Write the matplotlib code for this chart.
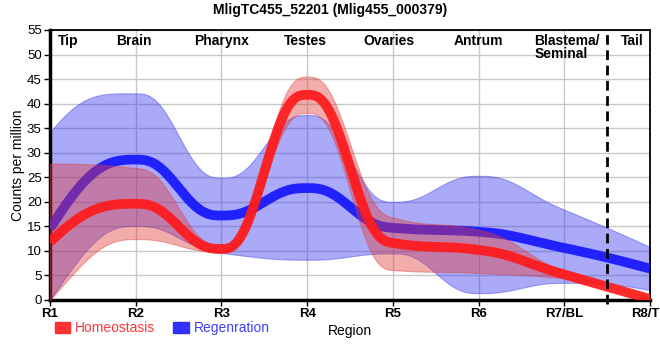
import numpy as np
import matplotlib
matplotlib.use("Agg")
from matplotlib import pyplot as plt
from matplotlib.patches import Patch

plt.rcParams['font.family'] = ['Liberation Sans', 'DejaVu Sans']

regions = ['R1', 'R2', 'R3', 'R4', 'R5', 'R6', 'R7/BL', 'R8/TE']
parts = ['Tip', 'Brain', 'Pharynx', 'Testes', 'Ovaries', 'Antrum', 'Blastema/\nSeminal', 'Tail']
part_pos = [0.09, 0.77, 1.68, 2.73, 3.66, 4.71, 5.65, 6.66]

homeo_mean = [11.8, 19.6, 10.4, 41.8, 11.6, 10.2, 5.2, 0.2]
homeo_hi = [27.8, 26.9, 11.2, 45.5, 16.8, 14.3, 5.9, 0.5]
homeo_lo = [0.0, 12.4, 9.8, 38.1, 6.1, 5.5, 4.4, 0.0]

regen_mean = [14.6, 28.6, 17.2, 22.8, 14.7, 13.9, 10.6, 6.4]
regen_hi = [34.2, 42.1, 24.9, 37.7, 20.0, 25.3, 18.4, 10.8]
regen_lo = [0.0, 15.1, 9.6, 8.2, 9.5, 1.4, 3.5, 2.0]


def smooth(y, n=500):
    # quintic hermite through the region points, pchip-style slopes
    y = np.asarray(y, float)
    d = np.diff(y)
    m = np.zeros_like(y)
    for i in range(1, len(y) - 1):
        if d[i - 1] * d[i] > 0:
            m[i] = 2 / (1 / d[i - 1] + 1 / d[i])
    for i, a, b in [(0, d[0], d[1]), (-1, d[-1], d[-2])]:
        e = (3 * a - b) / 2
        if e * a <= 0:
            e = 0
        elif a * b < 0 and abs(e) > 3 * abs(a):
            e = 3 * a
        m[i] = e
    xs = np.linspace(0, len(y) - 1, n)
    k = np.minimum(xs.astype(int), len(y) - 2)
    t = xs - k
    h0 = 1 - 10 * t**3 + 15 * t**4 - 6 * t**5
    h1 = t - 6 * t**3 + 8 * t**4 - 3 * t**5
    h4 = -4 * t**3 + 7 * t**4 - 3 * t**5
    h5 = 10 * t**3 - 15 * t**4 + 6 * t**5
    ys = h0 * y[k] + h1 * m[k] + h5 * y[k + 1] + h4 * m[k + 1]
    return xs, ys


fig = plt.figure(figsize=(6.6, 3.6), dpi=100)
ax = fig.add_axes([50 / 660, 60 / 360, 600 / 660, 270 / 360])

xs, b_hi = smooth(regen_hi)
_, b_lo = smooth(regen_lo)
_, b_m = smooth(regen_mean)
_, r_hi = smooth(homeo_hi)
_, r_lo = smooth(homeo_lo)
_, r_m = smooth(homeo_mean)

ax.fill_between(xs, b_lo, b_hi, color='#3a3af0', alpha=0.43, lw=0.8, zorder=2)
ax.plot(xs, b_m, color='#1a1aff', lw=7, alpha=0.95, solid_capstyle='butt', zorder=3)
ax.fill_between(xs, r_lo, r_hi, color='#e03a3a', alpha=0.42, lw=0.8, zorder=4)
ax.plot(xs, r_m, color='#ff1a1a', lw=7, alpha=0.92, solid_capstyle='butt', zorder=5)

ax.axvline(6.5, color='black', ls=(0, (3.5, 2)), lw=2, zorder=6, clip_on=False, ymin=-0.015)

ax.set_xlim(0, 7)
ax.set_ylim(0, 55)
ax.set_yticks(np.arange(0, 56, 5))
ax.set_xticks(range(len(regions)))
ax.set_xticklabels(regions, fontweight='bold', fontsize=9.5)
ax.tick_params(axis='y', labelsize=9.5, length=4, width=1, pad=2)
ax.tick_params(axis='x', length=4, width=1, pad=1.5)
ax.grid(True, color='#c8c8c8', lw=1, zorder=0)
ax.set_axisbelow(True)
for s in ['left', 'bottom']:
    ax.spines[s].set_linewidth(2.5)
for s in ['top', 'right']:
    ax.spines[s].set_linewidth(1.3)

for p, t in zip(part_pos, parts):
    ax.text(p, 54.2, t, ha='left', va='top', fontweight='bold', fontsize=10,
            linespacing=0.95, zorder=7)

ax.set_ylabel('Counts per million', fontsize=10, labelpad=1)
ax.set_xlabel('Region', fontsize=10, labelpad=3)
fig.text(0.5, 0.992, 'MligTC455_52201 (Mlig455_000379)', ha='center', va='top',
         fontweight='bold', fontsize=10)

handles = [Patch(color='#ff3030'), Patch(color='#3030ff')]
leg = ax.legend(handles, ['Homeostasis', 'Regenration'], loc='center left',
                bbox_to_anchor=(-0.001, -0.105), ncol=2, frameon=False,
                handlelength=1.1, handleheight=0.8, handletextpad=0.35,
                columnspacing=1.3, fontsize=10, borderaxespad=0)
leg.get_texts()[0].set_color('#ff3838')
leg.get_texts()[1].set_color('#4040ff')

fig.savefig('out.png', dpi=100)
